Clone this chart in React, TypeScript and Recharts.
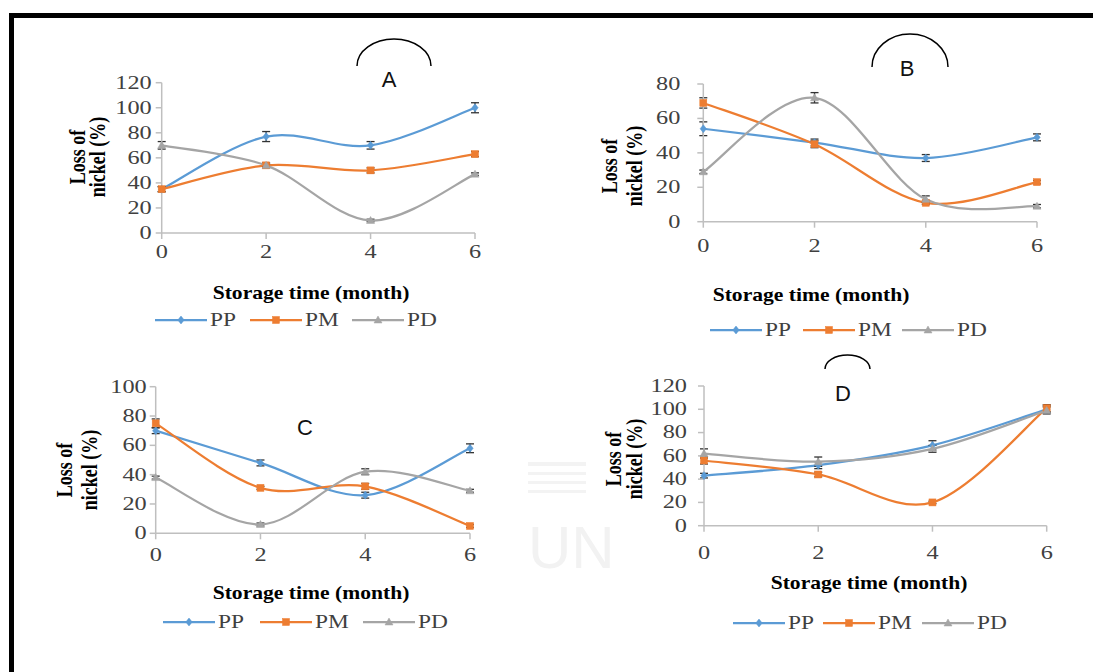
import React from 'react';
import { LineChart, Line, XAxis, YAxis, ErrorBar, Legend, Label } from 'recharts';

// ---------- data ----------
const months = [0, 2, 4, 6];
const seriesNames = ['PP', 'PM', 'PD'];
const seriesColors = ['#5B9BD5', '#ED7D31', '#A5A5A5'];
const seriesMarkers = ['diamond', 'square', 'triangle'];

// Panel A
const aPP = [35, 77, 70, 100];
const aPM = [35, 54, 50, 63];
const aPD = [70, 54, 10, 47];
const aPPErr = [2, 4, 3, 4];
const aPMErr = [2, 2, 2, 2];
const aPDErr = [3, 1, 1, 1];
const aYTicks = [0, 20, 40, 60, 80, 100, 120];

// Panel B
const bPP = [54, 46, 37, 49];
const bPM = [69, 45, 11, 23];
const bPD = [29, 72, 13, 9];
const bPPErr = [4, 2, 2, 2];
const bPMErr = [3, 2, 1, 1];
const bPDErr = [1, 3, 2, 1];
const bYTicks = [0, 20, 40, 60, 80];

// Panel C
const cPP = [70, 48, 26, 58];
const cPM = [75, 31, 32, 5];
const cPD = [38, 6, 42, 29];
const cPPErr = [2, 2, 2, 3];
const cPMErr = [3, 1, 2, 1];
const cPDErr = [1, 1, 2, 1];
const cYTicks = [0, 20, 40, 60, 80, 100];

// Panel D
const dPP = [43, 52, 69, 100];
const dPM = [56, 44, 20, 101];
const dPD = [62, 55, 66, 99];
const dPPErr = [2, 3, 4, 3];
const dPMErr = [3, 2, 1, 3];
const dPDErr = [4, 4, 3, 3];
const dYTicks = [0, 20, 40, 60, 80, 100, 120];

const panelLetters = ['A', 'B', 'C', 'D'];
const xTitle = 'Storage time (month)';
const yTitleLines = ['Loss of', 'nickel (%)'];

const buildData = (pp: number[], pm: number[], pd: number[], ppE: number[], pmE: number[], pdE: number[]) =>
  months.map((t, i) => ({ t, PP: pp[i], PM: pm[i], PD: pd[i], PPErr: ppE[i], PMErr: pmE[i], PDErr: pdE[i] }));

const dataA = buildData(aPP, aPM, aPD, aPPErr, aPMErr, aPDErr);
const dataB = buildData(bPP, bPM, bPD, bPPErr, bPMErr, bPDErr);
const dataC = buildData(cPP, cPM, cPD, cPPErr, cPMErr, cPDErr);
const dataD = buildData(dPP, dPM, dPD, dPPErr, dPMErr, dPDErr);

// ---------- layout (page coordinates) ----------
const PAGE_W = 1093;
const PAGE_H = 672;
const SERIF = '"Liberation Serif", "Times New Roman", serif';
const SANS = '"Liberation Sans", Arial, sans-serif';
const AXIS = '#BFBFBF';
const TICK_TEXT = '#404040';

const layouts = [
  { plot: { l: 161.7, r: 475, t: 82.7, b: 233 }, gap: 10, xTickY: 252, title: { x: 311, y: 293 }, ylab: { x1: 77, x2: 97, cy: 157 }, legend: { y: 320, starts: [155, 250, 352] } },
  { plot: { l: 703.3, r: 1037, t: 84, b: 221.7 }, gap: 23, xTickY: 246, title: { x: 811, y: 295 }, ylab: { x1: 609, x2: 634, cy: 166 }, legend: { y: 330, starts: [710, 803, 902] } },
  { plot: { l: 155.7, r: 470, t: 386.7, b: 533.3 }, gap: 9, xTickY: 555, title: { x: 311, y: 593 }, ylab: { x1: 64.5, x2: 89.5, cy: 470 }, legend: { y: 621.7, starts: [163, 260, 363] } },
  { plot: { l: 704, r: 1046.7, t: 386, b: 525.7 }, gap: 17, xTickY: 553, title: { x: 869, y: 583 }, ylab: { x1: 613.5, x2: 634, cy: 459 }, legend: { y: 623, starts: [733, 823, 922] } },
];

// Excel-like smoothed line (Catmull-Rom style bezier)
const excelSmooth = (context: any) => {
  let pts: number[][] = [];
  return {
    areaStart() {},
    areaEnd() {},
    lineStart() { pts = []; },
    lineEnd() {
      if (!pts.length) return;
      context.moveTo(pts[0][0], pts[0][1]);
      for (let i = 0; i < pts.length - 1; i++) {
        const p0 = pts[i - 1] || pts[i];
        const p1 = pts[i];
        const p2 = pts[i + 1];
        const p3 = pts[i + 2] || pts[i + 1];
        context.bezierCurveTo(
          p1[0] + (p2[0] - p0[0]) / 6, p1[1] + (p2[1] - p0[1]) / 6,
          p2[0] - (p3[0] - p1[0]) / 6, p2[1] - (p3[1] - p1[1]) / 6,
          p2[0], p2[1]
        );
      }
    },
    point(x: number, y: number) { pts.push([+x, +y]); },
  };
};

const Marker = ({ kind, cx, cy, color, size = 4 }: any) => {
  if (kind === 'diamond') {
    return <path d={`M${cx},${cy - size}L${cx + size * 0.8},${cy}L${cx},${cy + size}L${cx - size * 0.8},${cy}Z`} fill={color} stroke={color} strokeWidth={0.5} />;
  }
  if (kind === 'square') {
    return <rect x={cx - size + 0.5} y={cy - size + 0.5} width={2 * size - 1} height={2 * size - 1} fill={color} stroke={color} strokeWidth={0.5} />;
  }
  return <path d={`M${cx},${cy - size}L${cx + size},${cy + size * 0.75}L${cx - size},${cy + size * 0.75}Z`} fill={color} stroke={color} strokeWidth={0.5} />;
};

const renderDot = (kind: string, color: string) => (p: any) => (
  <Marker key={`dot-${kind}-${p.index}`} kind={kind} cx={p.cx} cy={p.cy} color={color} />
);

const makeYTick = (axisX: number, gap: number) => (p: any) => (
  <text
    transform={`translate(${axisX - gap},${p.y}) scale(1.35,1)`}
    x={0}
    y={0}
    textAnchor="end"
    dominantBaseline="central"
    fontFamily={SERIF}
    fontSize={18}
    fill={TICK_TEXT}
  >
    {p.payload.value}
  </text>
);

const makeXTick = (ty: number) => (p: any) => (
  <text
    transform={`translate(${p.x},${ty}) scale(1.35,1)`}
    x={0}
    y={0}
    textAnchor="middle"
    dominantBaseline="central"
    fontFamily={SERIF}
    fontSize={18}
    fill={TICK_TEXT}
  >
    {p.payload.value}
  </text>
);

const Panel = ({ data, yTicks, lay }: any) => {
  const { plot } = lay;
  const yw = 40;
  const xh = 30;
  const margin = { top: plot.t, left: plot.l - yw, right: PAGE_W - plot.r, bottom: PAGE_H - plot.b - xh };
  const keys = ['PP', 'PM', 'PD'];
  return (
    <div style={{ position: 'absolute', left: 0, top: 0 }}>
      <LineChart width={PAGE_W} height={PAGE_H} data={data} margin={margin}>
        <XAxis
          dataKey="t"
          type="number"
          domain={[0, 6]}
          ticks={months}
          interval={0}
          height={xh}
          tick={makeXTick(lay.xTickY)}
          tickSize={6}
          tickLine={{ stroke: AXIS, strokeWidth: 1.5 }}
          axisLine={{ stroke: AXIS, strokeWidth: 1.5 }}
        >
          <Label
            content={() => (
              <text
                transform={`translate(${lay.title.x},${lay.title.y}) scale(1.2,1)`}
                x={0}
                y={0}
                textAnchor="middle"
                dominantBaseline="central"
                fontFamily={SERIF}
                fontWeight="bold"
                fontSize={18}
                fill="#000"
              >
                {xTitle}
              </text>
            )}
          />
        </XAxis>
        <YAxis
          type="number"
          domain={[0, yTicks[yTicks.length - 1]]}
          ticks={yTicks}
          interval={0}
          width={yw}
          tick={makeYTick(plot.l, lay.gap)}
          tickSize={6}
          tickLine={{ stroke: AXIS, strokeWidth: 1.5 }}
          axisLine={{ stroke: AXIS, strokeWidth: 1.5 }}
        >
          <Label
            content={() => (
              <g>
                {yTitleLines.map((line, i) => (
                  <text
                    key={line}
                    transform={`translate(${i === 0 ? lay.ylab.x1 : lay.ylab.x2},${lay.ylab.cy}) scale(1.25,1) rotate(-90)`}
                    x={0}
                    y={0}
                    textAnchor="middle"
                    dominantBaseline="central"
                    fontFamily={SERIF}
                    fontWeight="bold"
                    fontSize={18}
                    fill="#000"
                  >
                    {line}
                  </text>
                ))}
              </g>
            )}
          />
        </YAxis>
        {keys.map((k, i) => (
          <Line
            key={k}
            dataKey={k}
            name={seriesNames[i]}
            type={excelSmooth as any}
            stroke={seriesColors[i]}
            strokeWidth={2.25}
            dot={renderDot(seriesMarkers[i], seriesColors[i])}
            activeDot={false}
            isAnimationActive={false}
          >
            <ErrorBar dataKey={`${k}Err`} direction="y" width={4} stroke="#333" strokeWidth={1.3} />
          </Line>
        ))}
        <Legend
          layout="horizontal"
          verticalAlign="middle"
          align="center"
          wrapperStyle={{ left: 0, top: 0, width: PAGE_W, height: 0 }}
          content={() => (
            <svg
              width={PAGE_W}
              height={40}
              style={{ position: 'absolute', left: 0, top: lay.legend.y - 20, overflow: 'visible' }}
            >
              {seriesNames.map((name, i) => {
                const x0 = lay.legend.starts[i];
                const x1 = x0 + 52;
                return (
                  <g key={name}>
                    <line x1={x0} y1={20} x2={x1} y2={20} stroke={seriesColors[i]} strokeWidth={2.25} />
                    <Marker kind={seriesMarkers[i]} cx={(x0 + x1) / 2} cy={20} color={seriesColors[i]} />
                    <text
                      transform={`translate(${x1 + 3},20) scale(1.3,1)`}
                      x={0}
                      y={0}
                      dominantBaseline="central"
                      fontFamily={SERIF}
                      fontSize={18}
                      fill={TICK_TEXT}
                    >
                      {name}
                    </text>
                  </g>
                );
              })}
            </svg>
          )}
        />
      </LineChart>
    </div>
  );
};

const letterPos = [
  { x: 389, y: 79 },
  { x: 907, y: 68 },
  { x: 305, y: 427 },
  { x: 843, y: 393 },
];

export default function App() {
  return (
    <div style={{ position: 'absolute', left: 0, top: 0, width: PAGE_W, height: PAGE_H, background: '#fff', overflow: 'hidden' }}>
      <svg width={PAGE_W} height={PAGE_H} style={{ position: 'absolute', left: 0, top: 0 }}>
        {/* faint watermark */}
        <g fill="#F3F3F3">
          <rect x={528} y={462} width={58} height={4} />
          <rect x={528} y={472} width={58} height={3} />
          <rect x={528} y={481} width={58} height={3} />
          <rect x={528} y={490} width={58} height={3} />
          <text x={528} y={568} fontFamily={SANS} fontSize={60} fill="#F2F2F2">UN</text>
        </g>
        {/* frame */}
        <rect x={9} y={13} width={PAGE_W} height={5} fill="#000" />
        <rect x={9} y={13} width={5} height={PAGE_H} fill="#000" />
        {/* arcs */}
        <path d="M357,66 A37,27 0 0 1 431,66" fill="none" stroke="#000" strokeWidth={1.5} />
        <path d="M872,67 A38,33 0 0 1 948,67" fill="none" stroke="#000" strokeWidth={1.5} />
        <path d="M825,369 A22.5,14 0 0 1 870,369" fill="none" stroke="#000" strokeWidth={1.5} />
      </svg>
      <Panel data={dataA} yTicks={aYTicks} lay={layouts[0]} />
      <Panel data={dataB} yTicks={bYTicks} lay={layouts[1]} />
      <Panel data={dataC} yTicks={cYTicks} lay={layouts[2]} />
      <Panel data={dataD} yTicks={dYTicks} lay={layouts[3]} />
      <svg width={PAGE_W} height={PAGE_H} style={{ position: 'absolute', left: 0, top: 0, pointerEvents: 'none' }}>
        {panelLetters.map((L, i) => (
          <text
            key={L}
            x={letterPos[i].x}
            y={letterPos[i].y}
            textAnchor="middle"
            dominantBaseline="central"
            fontFamily={SANS}
            fontSize={22}
            fill="#111"
          >
            {L}
          </text>
        ))}
      </svg>
    </div>
  );
}
